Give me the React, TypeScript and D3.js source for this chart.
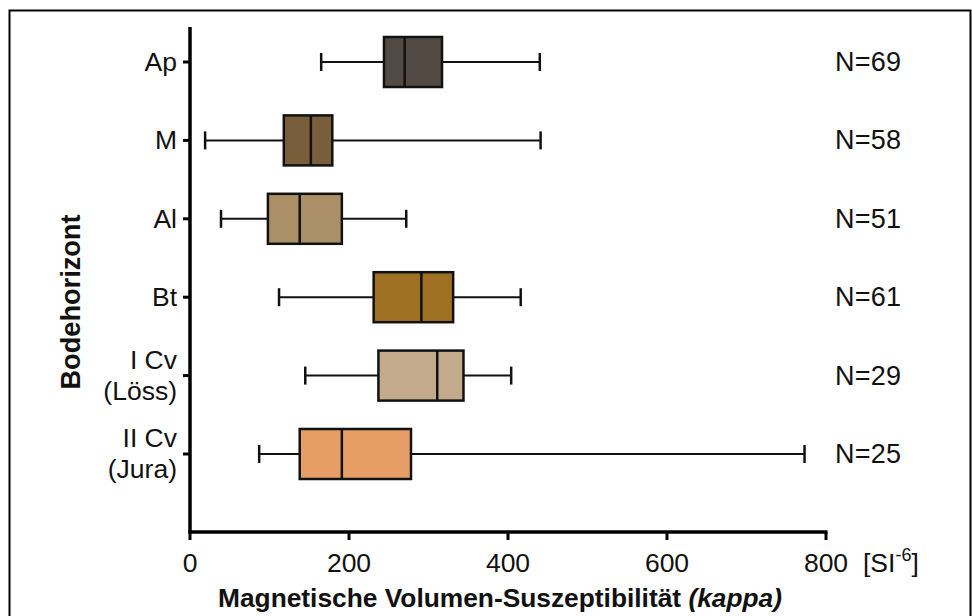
import React from "react";
import * as d3 from "d3";

const categories = ["Ap", "M", "Al", "Bt", "I Cv|(Löss)", "II Cv|(Jura)"];
const whiskerLow = [165, 19, 39, 112, 145, 87];
const q1 = [244, 118, 98, 231, 237, 138];
const median = [270, 152, 138, 291, 311, 191];
const q3 = [317, 179, 191, 331, 344, 278];
const whiskerHigh = [440, 441, 272, 416, 404, 773];
const counts = ["N=69", "N=58", "N=51", "N=61", "N=29", "N=25"];
const colors = ["#524a43", "#785e3a", "#ab8f67", "#9e7022", "#c3aa8b", "#e69e66"];
const xTicks = [0, 200, 400, 600, 800];

const W = 972;
const H = 616;
const font = "'Liberation Sans', Arial, sans-serif";

export default function App() {
  const x = d3.scaleLinear().domain([0, 800]).range([190, 826]);
  const y = d3.scalePoint<string>().domain(categories).range([62, 454]);
  const boxH = 50;
  const capH = 18;
  const axisY = 532;

  return (
    <svg width={W} height={H} style={{ position: "absolute", left: 0, top: 0, background: "#fff" }} fontFamily={font}>
      <rect x={9.5} y={10.5} width={961} height={640} fill="none" stroke="#000" strokeWidth={2} />
      {categories.map((c, i) => {
        const cy = y(c)!;
        return (
          <g key={c} stroke="#111" strokeWidth={2}>
            <line x1={x(whiskerLow[i])} x2={x(q1[i])} y1={cy} y2={cy} />
            <line x1={x(q3[i])} x2={x(whiskerHigh[i])} y1={cy} y2={cy} />
            <line x1={x(whiskerLow[i])} x2={x(whiskerLow[i])} y1={cy - capH / 2} y2={cy + capH / 2} strokeWidth={2.5} />
            <line x1={x(whiskerHigh[i])} x2={x(whiskerHigh[i])} y1={cy - capH / 2} y2={cy + capH / 2} strokeWidth={2.5} />
            <rect x={x(q1[i])} y={cy - boxH / 2} width={x(q3[i]) - x(q1[i])} height={boxH} fill={colors[i]} strokeWidth={2.5} />
            <line x1={x(median[i])} x2={x(median[i])} y1={cy - boxH / 2} y2={cy + boxH / 2} strokeWidth={2.5} />
            <text x={835} y={cy + 9} fontSize={27} textLength={66} fill="#111" stroke="none">{counts[i]}</text>
          </g>
        );
      })}
      <line x1={190} x2={190} y1={27} y2={axisY + 1.5} stroke="#000" strokeWidth={3.5} />
      {categories.map((c) => {
        const cy = y(c)!;
        const lines = c.split("|");
        return (
          <g key={"t" + c}>
            <line x1={183} x2={190} y1={cy} y2={cy} stroke="#000" strokeWidth={3} />
            {lines.length === 1 ? (
              <text x={177} y={cy + 9} fontSize={26.5} textAnchor="end" fill="#111">{lines[0]}</text>
            ) : (
              <text x={177} y={cy - 7} fontSize={26.5} textAnchor="end" fill="#111">
                <tspan x={177}>{lines[0]}</tspan>
                <tspan x={177} dy={31}>{lines[1]}</tspan>
              </text>
            )}
          </g>
        );
      })}
      <line x1={188.5} x2={x(800) + 1.5} y1={axisY} y2={axisY} stroke="#000" strokeWidth={3.5} />
      {xTicks.map((t) => (
        <g key={"x" + t}>
          <line x1={x(t)} x2={x(t)} y1={axisY} y2={axisY + 8} stroke="#000" strokeWidth={3} />
          <text x={x(t)} y={572} fontSize={26.5} textAnchor="middle" fill="#111">{t}</text>
        </g>
      ))}
      <text x={863} y={572} fontSize={26.5} fill="#111">
        [SI<tspan dy={-11} fontSize={18}>-6</tspan><tspan dy={11}>]</tspan>
      </text>
      <text x={500} y={607} fontSize={26} fontWeight="bold" textAnchor="middle" fill="#111" textLength={564} lengthAdjust="spacingAndGlyphs">
        Magnetische Volumen-Suszeptibilität <tspan fontStyle="italic">(kappa)</tspan>
      </text>
      <text transform="translate(80,302) rotate(-90)" fontSize={27} fontWeight="bold" textAnchor="middle" fill="#111" textLength={175} lengthAdjust="spacingAndGlyphs">
        Bodehorizont
      </text>
    </svg>
  );
}
